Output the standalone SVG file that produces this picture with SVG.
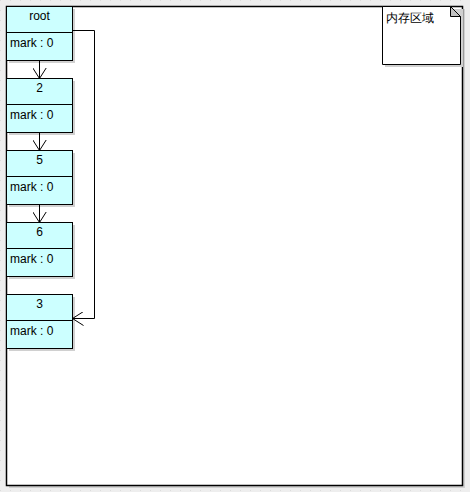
<svg xmlns="http://www.w3.org/2000/svg" width="470" height="492" viewBox="0 0 470 492">
<style>
.node{fill:#ccffff;stroke:#000;stroke-width:1}
.shadow{fill:#d0d0d0}
.t{font-family:"Liberation Sans",Arial,sans-serif;font-size:12px;fill:#000}
.c{text-anchor:middle}
.conn{fill:none;stroke:#000;stroke-width:1}
</style>
<defs>
<pattern id="dots" width="10" height="10" patternUnits="userSpaceOnUse">
<rect width="10" height="10" fill="#eeeeee"/>
<rect x="0" y="0" width="1" height="1" fill="#dcdcdc"/>
</pattern>
<marker id="open" viewBox="0 0 12 14" refX="11" refY="7" markerWidth="12" markerHeight="14" markerUnits="userSpaceOnUse" orient="auto">
<path d="M0,0 L11,7 L0,14" fill="none" stroke="#000" stroke-width="1"/>
</marker>
</defs>
<rect width="470" height="492" fill="url(#dots)"/>
<g id="frame">
<rect x="9" y="9" width="456" height="479" class="shadow"/>
<rect x="6.5" y="6.5" width="456" height="479" fill="#fff" stroke="#000" stroke-width="1.5"/>
</g>
<g id="note">
<rect x="385" y="9" width="78" height="58" class="shadow"/>
<path d="M382.5,6.5 H450.5 L460.5,16.5 V64.5 H382.5 Z" fill="#fff" stroke="#000"/>
<path d="M450.5,6.5 V16.5 H460.5 Z" fill="#c0c0c0" stroke="#000"/>
<text x="386" y="22" class="t" font-family="'Liberation Sans','Noto Sans CJK SC',sans-serif">内存区域</text>
</g>
<g id="node-root">
<rect x="9" y="9" width="66" height="54" class="shadow"/>
<rect x="6.5" y="6.5" width="66" height="54" class="node"/>
<line x1="6.5" y1="32.5" x2="72.5" y2="32.5" stroke="#000"/>
<text x="39.5" y="20" class="t c">root</text>
<text x="10" y="47" class="t">mark : 0</text>
</g>
<g id="node-2">
<rect x="9" y="81" width="66" height="54" class="shadow"/>
<rect x="6.5" y="78.5" width="66" height="54" class="node"/>
<line x1="6.5" y1="104.5" x2="72.5" y2="104.5" stroke="#000"/>
<text x="39.5" y="92" class="t c">2</text>
<text x="10" y="119" class="t">mark : 0</text>
</g>
<g id="node-5">
<rect x="9" y="153" width="66" height="54" class="shadow"/>
<rect x="6.5" y="150.5" width="66" height="54" class="node"/>
<line x1="6.5" y1="176.5" x2="72.5" y2="176.5" stroke="#000"/>
<text x="39.5" y="164" class="t c">5</text>
<text x="10" y="191" class="t">mark : 0</text>
</g>
<g id="node-6">
<rect x="9" y="225" width="66" height="54" class="shadow"/>
<rect x="6.5" y="222.5" width="66" height="54" class="node"/>
<line x1="6.5" y1="248.5" x2="72.5" y2="248.5" stroke="#000"/>
<text x="39.5" y="236" class="t c">6</text>
<text x="10" y="263" class="t">mark : 0</text>
</g>
<g id="node-3">
<rect x="9" y="297" width="66" height="54" class="shadow"/>
<rect x="6.5" y="294.5" width="66" height="54" class="node"/>
<line x1="6.5" y1="320.5" x2="72.5" y2="320.5" stroke="#000"/>
<text x="39.5" y="308" class="t c">3</text>
<text x="10" y="335" class="t">mark : 0</text>
</g>
<g id="connectors">
<path class="conn" d="M39.5,60.5 V78.5" marker-end="url(#open)"/>
<path class="conn" d="M39.5,132.5 V150.5" marker-end="url(#open)"/>
<path class="conn" d="M39.5,204.5 V222.5" marker-end="url(#open)"/>
<path class="conn" d="M72.5,30.5 H94.5 V318.5 H72.5" marker-end="url(#open)"/>
</g>
</svg>
